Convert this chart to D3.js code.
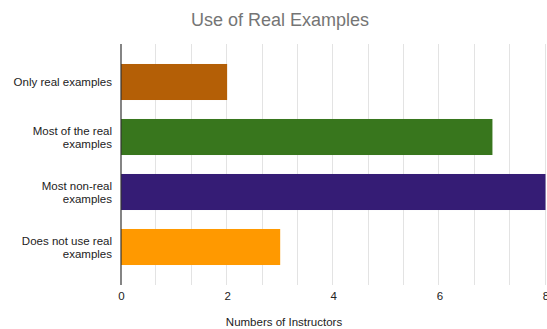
<!DOCTYPE html>
<html>
<head>
<meta charset="utf-8">
<script src="https://cdn.jsdelivr.net/npm/d3@7"></script>
<style>
  body { margin: 0; background: #fff; }
  text { font-family: Arial, "Liberation Sans", sans-serif; }
</style>
</head>
<body>
<div id="chart"></div>
<script>
var categories = [
    ["Only real examples"],
    ["Most of the real", "examples"],
    ["Most non-real", "examples"],
    ["Does not use real", "examples"]
];
var values = [2, 7, 8, 3];
var barColors = ["#b45f06", "#38761d", "#351c75", "#ff9900"];
var tickValues = [0, 2, 4, 6, 8];

function drawChart () {
    var width = 547,
        height = 329,
        plotLeft = 121,
        plotRight = 545.5,
        plotTop = 44,
        plotBottom = 285;

    var svg = d3.select('#chart')
        .append('svg')
        .attr('width', width)
        .attr('height', height);

    var x = d3.scaleLinear().domain([0, 8]).range([plotLeft, plotRight]);
    var y = d3.scaleBand()
        .domain(d3.range(categories.length))
        .range([54.5, 274.5])
        .paddingInner(0.345)
        .paddingOuter(0.1725);

    // minor gridlines every 2/3 unit
    var grid = d3.range(1, 13).map(function (i) { return i * 8 / 12; });
    svg.append('g').selectAll('line')
        .data(grid)
        .enter().append('line')
        .attr('x1', function (d) { return Math.round(x(d)) - 0.5; })
        .attr('x2', function (d) { return Math.round(x(d)) - 0.5; })
        .attr('y1', plotTop)
        .attr('y2', plotBottom)
        .style('stroke', '#e3e3e3')
        .style('stroke-width', 1);

    // bars
    svg.append('g').selectAll('rect')
        .data(values)
        .enter().append('rect')
        .attr('x', x(0))
        .attr('y', function (d, i) { return y(i); })
        .attr('width', function (d) { return x(d) - x(0); })
        .attr('height', y.bandwidth())
        .style('fill', function (d, i) { return barColors[i]; });

    // baseline
    svg.append('line')
        .attr('x1', plotLeft).attr('x2', plotLeft)
        .attr('y1', plotTop).attr('y2', plotBottom)
        .style('stroke', '#333')
        .style('stroke-width', 1.2);

    // x axis
    var xAxis = d3.axisBottom(x).tickValues(tickValues).tickSize(0).tickPadding(0);
    var gx = svg.append('g')
        .attr('transform', 'translate(0,' + 292 + ')')
        .call(xAxis);
    gx.select('.domain').remove();
    gx.selectAll('text')
        .attr('dy', '0.71em')
        .style('font-size', '11.5px')
        .style('fill', '#222')
        .style('font-family', 'Arial, "Liberation Sans", sans-serif');

    // category labels
    var labels = svg.append('g').selectAll('text')
        .data(categories)
        .enter().append('text')
        .attr('text-anchor', 'end')
        .style('font-size', '11.5px')
        .style('fill', '#222')
        .attr('transform', function (d, i) {
            return 'translate(112,' + (y(i) + y.bandwidth() / 2) + ')';
        });
    labels.selectAll('tspan')
        .data(function (d) { return d; })
        .enter().append('tspan')
        .attr('x', 0)
        .attr('y', function (d, j, nodes) {
            return (j - (nodes.length - 1) / 2) * 13;
        })
        .attr('dy', '0.35em')
        .text(function (d) { return d; });

    // title
    svg.append('text')
        .attr('x', 280)
        .attr('y', 26)
        .attr('text-anchor', 'middle')
        .style('font-size', '18px')
        .style('fill', '#757575')
        .text('Use of Real Examples');

    // axis title
    svg.append('text')
        .attr('x', 284)
        .attr('y', 326)
        .attr('text-anchor', 'middle')
        .style('font-size', '11.5px')
        .style('fill', '#222')
        .text('Numbers of Instructors');
}

drawChart();
</script>
</body>
</html>
